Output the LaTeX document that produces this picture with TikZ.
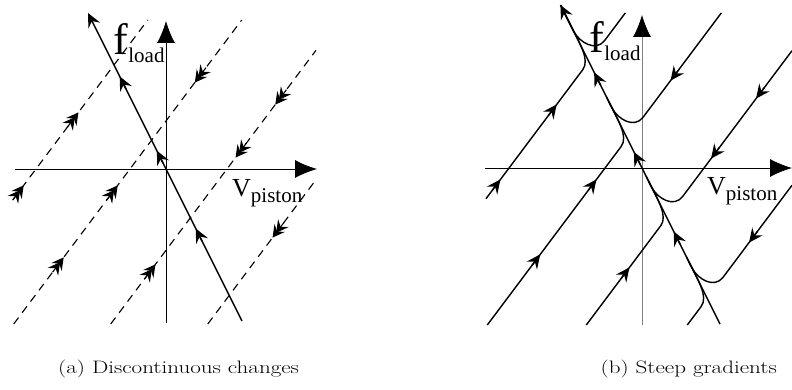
\documentclass[tikz,border=0pt]{standalone}
\usepackage{graphicx}
\usepackage{fontspec}
\newfontfamily\tnr{Liberation Serif}
\usetikzlibrary{arrows.meta,calc}
\tikzset{
  axis/.style={line width=0.8pt, -{Latex[length=22pt,width=18pt,color=black]}},
  mainline/.style={line width=1.5pt, -{Stealth[length=14pt,width=13pt,inset=5pt]}},
  dline/.style={line width=1.1pt, dash pattern=on 8pt off 6pt},
  traj/.style={line width=1.4pt},
  headtip/.style={line width=1.4pt, -{Stealth[length=14pt,width=13pt,inset=5pt]}},
  dtip/.style={line width=1.1pt, -{Stealth[length=12pt,width=13pt,inset=4.5pt]}},
  lbl/.style={anchor=base west, inner sep=0pt},
  captext/.style={inner sep=0pt},
}
\newcommand{\captionfont}[1]{\scalebox{1.28}[1]{\fontsize{18}{20}\selectfont #1}}
% single arrowhead centred on a line x = c + 0.75 y
\newcommand{\trhead}[3]{%
  \pgfmathsetmacro{\myhx}{#1+0.75*(#2)}%
  \draw[headtip] ($(\myhx,#2)+(#3+180:7pt)$) -- ($(\myhx,#2)+(#3:7pt)$);}
% double chevron centred on a line x = c + 0.75 y
\newcommand{\dchev}[3]{%
  \pgfmathsetmacro{\myhx}{#1+0.75*(#2)}%
  \draw[dtip] ($(\myhx,#2)+(#3+180:3pt)$) -- ($(\myhx,#2)+(#3:9.5pt)$);
  \draw[dtip] ($(\myhx,#2)+(#3+180:9pt)$) -- ($(\myhx,#2)+(#3:3.5pt)$);}
% arrowhead centred on the main line at distance t (up-left direction)
\newcommand{\mainhead}[1]{%
  \pgfmathsetmacro{\mymx}{-0.4472*(#1)}\pgfmathsetmacro{\mymy}{0.8944*(#1)}%
  \draw[headtip] ($(\mymx,\mymy)+(-63.43:7pt)$) -- ($(\mymx,\mymy)+(116.57:7pt)$);}
% trajectory from the right: #1 c, (#2,#3) start, #4 extension along main line
\newcommand{\rtraj}[4]{%
  \pgfmathsetmacro{\trYi}{-0.8*(#1)}%
  \pgfmathsetmacro{\trYa}{\trYi+21}\pgfmathsetmacro{\trXa}{#1+0.75*\trYa}%
  \pgfmathsetmacro{\trYb}{\trYi+31}\pgfmathsetmacro{\trXb}{-0.5*\trYb}%
  \pgfmathsetmacro{\trCax}{\trXa-8.4}\pgfmathsetmacro{\trCay}{\trYa-11.2}%
  \pgfmathsetmacro{\trCbx}{\trXb+6.26}\pgfmathsetmacro{\trCby}{\trYb-12.52}%
  \pgfmathsetmacro{\trXe}{\trXb-0.4472*(#4)}\pgfmathsetmacro{\trYe}{\trYb+0.8944*(#4)}%
  \draw[traj] (#2,#3) -- (\trXa,\trYa) .. controls (\trCax,\trCay) and (\trCbx,\trCby) .. (\trXb,\trYb) -- (\trXe,\trYe);}
% trajectory from the left
\newcommand{\ltraj}[4]{%
  \pgfmathsetmacro{\trYi}{-0.8*(#1)}%
  \pgfmathsetmacro{\trYa}{\trYi-8}\pgfmathsetmacro{\trXa}{#1+0.75*\trYa}%
  \pgfmathsetmacro{\trYb}{\trYi+36}\pgfmathsetmacro{\trXb}{-0.5*\trYb}%
  \pgfmathsetmacro{\trCax}{\trXa+7.2}\pgfmathsetmacro{\trCay}{\trYa+9.6}%
  \pgfmathsetmacro{\trCbx}{\trXb+8.94}\pgfmathsetmacro{\trCby}{\trYb-17.88}%
  \pgfmathsetmacro{\trXe}{\trXb-0.4472*(#4)}\pgfmathsetmacro{\trYe}{\trYb+0.8944*(#4)}%
  \draw[traj] (#2,#3) -- (\trXa,\trYa) .. controls (\trCax,\trCay) and (\trCbx,\trCby) .. (\trXb,\trYb) -- (\trXe,\trYe);}
\begin{document}
\begin{tikzpicture}[x=1pt,y=1pt]
\useasboundingbox (0,0) rectangle (792,390);
% ---------------- panel (a) ----------------
\begin{scope}[shift={(166,221)}]
  \draw[axis] (-151,0) -- (151,0);
  \draw[axis] (0,-154) -- (0,148);
  % dashed lines x = c + 0.75 y
  \draw[dline] (-153,-30.67) -- (-18.25,149);
  \draw[dline] (-152.25,-155) -- (75.75,149);
  \draw[dline] (-55.25,-155) -- (150,118.67);
  \draw[dline] (41.75,-155) -- (150,-10.67);
  \dchev{-130}{-24}{53.13}\dchev{-130}{49}{53.13}
  \dchev{-36}{-96}{53.13}\dchev{-36}{-24}{53.13}\dchev{-36}{94}{233.13}
  \dchev{61}{-103}{53.13}\dchev{61}{19}{233.13}\dchev{61}{72}{233.13}
  \dchev{158}{-61}{233.13}
  % main line
  \draw[mainline] (76,-152) -- (-78,156);
  \mainhead{96.5}\mainhead{13.5}\mainhead{-73.5}
  \node[lbl] (fa) at (-53,114) {\tnr\fontsize{44}{44}\selectfont f\hspace{0.5pt}\raisebox{-8pt}{\fontsize{21}{21}\selectfont load}};
  \node[lbl] (va) at (66,-28) {\tnr\fontsize{26}{26}\selectfont V\raisebox{-6pt}{\fontsize{21}{21}\selectfont piston}};
\end{scope}
% ---------------- panel (b) ----------------
\begin{scope}[shift={(642,222)}]
  \draw[axis] (-157,0) -- (150,0);
  \draw[axis, draw=gray] (0,-157) -- (0,153);
  % trajectories from the left
  \ltraj{-133}{-156}{-30.7}{23}
  \ltraj{-37}{-154.75}{-157}{6}
  \ltraj{62}{-55.75}{-157}{6}
  \ltraj{163}{45.25}{-157}{6}
  % trajectories from the right
  \rtraj{-133}{-16.75}{155}{28.6}
  \rtraj{-37}{79.25}{155}{6}
  \rtraj{62}{150}{117.3}{6}
  \rtraj{163}{150}{-17.3}{6}
  \trhead{-133}{-17}{53.13}\trhead{-133}{58}{53.13}
  \trhead{-37}{-92}{53.13}\trhead{-37}{-17}{53.13}\trhead{-37}{93}{233.13}
  \trhead{62}{-105}{53.13}\trhead{62}{15}{233.13}\trhead{62}{75}{233.13}
  \trhead{163}{-69}{233.13}
  % main line
  \draw[mainline] (78,-156) -- (-81.5,163);
  \mainhead{100}\mainhead{11}\mainhead{-78}
  \node[lbl] (fb) at (-53,115) {\tnr\fontsize{44}{44}\selectfont f\hspace{0.5pt}\raisebox{-8pt}{\fontsize{21}{21}\selectfont load}};
  \node[lbl] (vb) at (65,-27) {\tnr\fontsize{26}{26}\selectfont V\raisebox{-6pt}{\fontsize{21}{21}\selectfont piston}};
\end{scope}
% captions
\node[captext, anchor=base west] (capa) at (58,16) {\captionfont{(a) Discontinuous changes}};
\node[captext, anchor=base east] (capb) at (777,16) {\captionfont{(b) Steep gradients}};
\end{tikzpicture}
\end{document}
